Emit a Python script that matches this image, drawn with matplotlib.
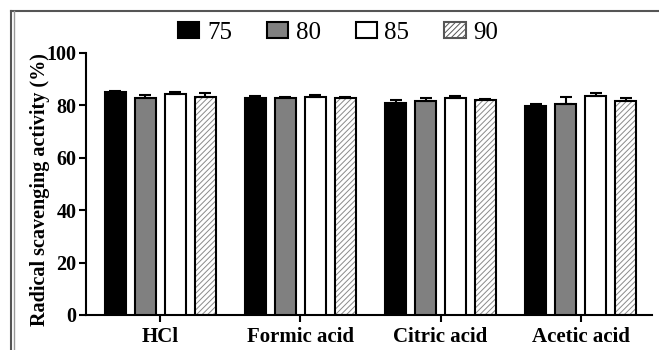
import numpy as np
import matplotlib
matplotlib.use("Agg")
import matplotlib.pyplot as plt
from matplotlib.patches import Patch
from matplotlib.lines import Line2D

# data
acids = ["HCl", "Formic acid", "Citric acid", "Acetic acid"]
series = ["75", "80", "85", "90"]
mean_75 = [85.2, 82.8, 81.0, 79.9]
mean_80 = [82.6, 82.6, 81.6, 80.6]
mean_85 = [84.2, 83.3, 82.7, 83.5]
mean_90 = [83.3, 82.6, 82.2, 81.7]
err_75 = [0.4, 0.9, 0.9, 0.4]
err_80 = [1.4, 0.5, 1.0, 2.6]
err_85 = [0.7, 0.8, 1.0, 1.2]
err_90 = [1.2, 0.4, 0.3, 1.1]

means = [mean_75, mean_80, mean_85, mean_90]
errs = [err_75, err_80, err_85, err_90]
faces = ["black", "#808080", "white", "white"]
hatches = [None, None, None, "//////"]

plt.rcParams['font.family'] = ['Liberation Serif', 'DejaVu Serif']
plt.rcParams['hatch.linewidth'] = 0.7

fig = plt.figure(figsize=(6.59, 3.5), dpi=100)
ax = fig.add_axes([0.1305, 0.10, 0.859, 0.749])

x = np.arange(len(acids))
pitch = 0.214
width = 0.15
for i in range(4):
    pos = x + (i - 1.5) * pitch
    if hatches[i]:
        ax.bar(pos, means[i], width, color="white", edgecolor="#8a8a8a",
               hatch=hatches[i], linewidth=0, zorder=2)
        ax.bar(pos, means[i], width, fill=False, edgecolor="black",
               linewidth=1.5, zorder=3)
    else:
        ax.bar(pos, means[i], width, color=faces[i], edgecolor="black",
               linewidth=1.5, zorder=3)
    ax.errorbar(pos, means[i], yerr=[np.zeros(4), errs[i]], fmt="none",
                ecolor="black", elinewidth=1.5, capsize=4, capthick=1.5, zorder=4)

ax.set_ylim(0, 100)
ax.set_xlim(-0.53, 3.51)
ax.set_yticks([0, 20, 40, 60, 80, 100])
ax.set_xticks(x)
ax.set_xticklabels(acids, fontweight="bold", fontsize=15)
for lab in ax.get_yticklabels():
    lab.set_fontweight("bold")
    lab.set_fontsize(14.5)
ax.tick_params(axis="both", direction="out", length=5, width=1.5, pad=2)
ax.tick_params(axis="x", pad=4)
ax.set_ylabel("Radical scavenging activity (%)", fontweight="bold", fontsize=14.5)
ax.yaxis.set_label_coords(-0.064, 0.48)
for side in ["top", "right"]:
    ax.spines[side].set_visible(False)
for side in ["left", "bottom"]:
    ax.spines[side].set_linewidth(1.5)

handles = []
for i in range(4):
    if hatches[i]:
        handles.append(Patch(facecolor="white", edgecolor="#555555", hatch=hatches[i],
                             linewidth=1.5))
    else:
        handles.append(Patch(facecolor=faces[i], edgecolor="black", linewidth=1.5))
fig.legend(handles, series, loc="center", bbox_to_anchor=(0.513, 0.906), ncol=4,
           frameon=False, fontsize=18, handlelength=0.85, handleheight=0.6,
           handletextpad=0.3, columnspacing=1.4)

# outer frame: top line and double left line
fig.add_artist(Line2D([0.017, 1.0], [0.969, 0.969], color="#555555", linewidth=1.5))
fig.add_artist(Line2D([0.017, 0.017], [0.0, 0.969], color="#555555", linewidth=1.5))
fig.add_artist(Line2D([0.022, 0.022], [0.0, 0.969], color="#999999", linewidth=1.0))

fig.savefig("out.png", dpi=100)
